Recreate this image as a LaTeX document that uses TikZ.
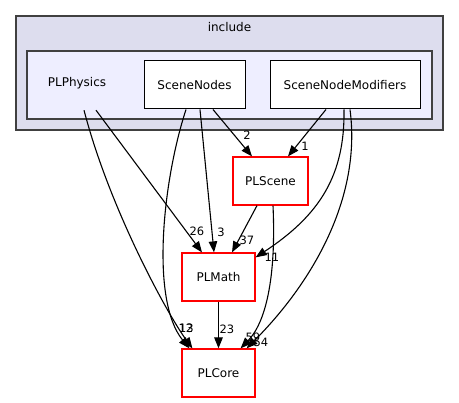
\documentclass[tikz,border=0pt]{standalone}
\usepackage{fontspec}
\setmainfont{DejaVu Sans}
\usetikzlibrary{arrows.meta}
\definecolor{outerfill}{HTML}{DDDDEE}
\definecolor{innerfill}{HTML}{EEEEFF}
\definecolor{frame}{HTML}{404040}
\begin{document}
\begin{tikzpicture}[x=1pt,y=-1pt,
  cluster/.style={draw=frame, line width=1.3pt, inner sep=0pt},
  dirbox/.style={draw=black, fill=white, line width=1pt, minimum height=48pt, inner sep=0pt, font=\fontsize{12}{14}\selectfont},
  extbox/.style={draw=red, fill=white, line width=1.2pt, minimum height=48pt, inner sep=0pt, font=\fontsize{12}{14}\selectfont},
  dep/.style={draw, line width=1.1pt, -{Triangle[length=11pt,width=8.5pt]}},
  num/.style={font=\fontsize{11.5}{13}\selectfont, inner sep=0pt}]
\useasboundingbox (0,0) rectangle (459,403);
\node[cluster, fill=outerfill, minimum width=427pt, minimum height=114pt] (include) at (229.5,73) {};
\node[font=\fontsize{12}{14}\selectfont] (includelabel) at (229.5,27) {include};
\node[cluster, fill=innerfill, minimum width=405pt, minimum height=68pt] (inner) at (229.5,85) {};
\node[minimum height=54pt, inner sep=0pt, font=\fontsize{12}{14}\selectfont] (PLPhysics) at (77,83) {PLPhysics};
\node[dirbox, minimum width=101pt] (SceneNodes) at (194.5,85) {SceneNodes};
\node[dirbox, minimum width=150pt] (SceneNodeModifiers) at (345,85) {SceneNodeModifiers};
\node[extbox, minimum width=75pt] (PLScene) at (270.5,181) {PLScene};
\node[extbox, minimum width=73pt] (PLMath) at (218.5,277) {PLMath};
\node[extbox, minimum width=73pt] (PLCore) at (218.5,373) {PLCore};

\path[dep] ([xshift=7pt]PLPhysics.south) .. controls (110,210) and (168,315) .. ([xshift=11pt]PLCore.north west);
\path[dep] ([xshift=19pt]PLPhysics.south) -- ([xshift=-16.5pt]PLMath.north);
\path[dep] ([xshift=-8.5pt]SceneNodes.south) .. controls (163,180) and (150,300) .. ([xshift=8pt]PLCore.north west);
\path[dep] ([xshift=5.5pt]SceneNodes.south) -- ([xshift=-4.5pt]PLMath.north);
\path[dep] ([xshift=18.5pt]SceneNodes.south) -- ([xshift=-18.5pt]PLScene.north);
\path[dep] ([xshift=-19pt]SceneNodeModifiers.south) -- ([xshift=17.5pt]PLScene.north);
\path[dep] ([xshift=-1pt]SceneNodeModifiers.south) .. controls (345,175) and (320,215) .. ([yshift=-5pt]PLMath.north east);
\path[dep] ([xshift=5pt]SceneNodeModifiers.south) .. controls (362,200) and (310,285) .. ([xshift=-9pt]PLCore.north east);
\path[dep] ([xshift=-13.5pt]PLScene.south) -- ([xshift=13.5pt]PLMath.north);
\path[dep] ([xshift=2.5pt]PLScene.south) .. controls (276,270) and (268,320) .. ([xshift=-15pt]PLCore.north east);
\path[dep] (PLMath.south) -- (PLCore.north);

\node[num] (n26) at (197,231) {26};
\node[num] (n3) at (221,232) {3};
\node[num] (n2) at (247,135) {2};
\node[num] (n1) at (305,146) {1};
\node[num] (n37) at (247,240) {37};
\node[num] (n11) at (272,257) {11};
\node[num] (n23) at (227,329) {23};
\node[num] (n12) at (186,328) {12};
\node[num] (n13) at (186.5,328) {13};
\node[num] (n59) at (253,337) {59};
\node[num] (n54) at (261,342) {54};
\end{tikzpicture}
\end{document}
